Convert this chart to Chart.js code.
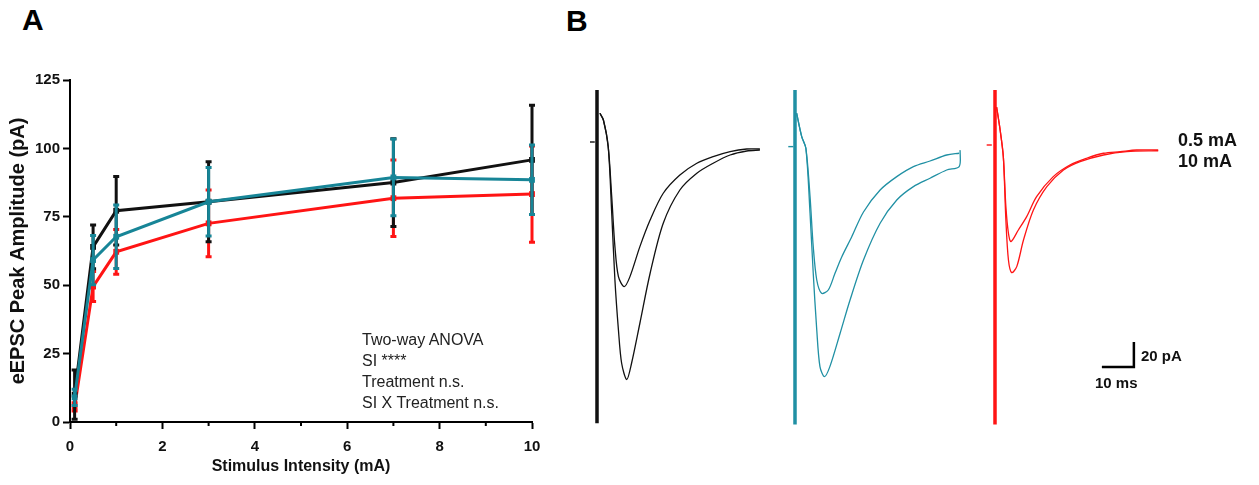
<!DOCTYPE html>
<html>
<head>
<meta charset="utf-8">
<script src="https://cdn.jsdelivr.net/npm/chart.js@4.4.1/dist/chart.umd.min.js"></script>
<style>
  html, body { margin:0; padding:0; background:#fff; }
  body { width:1259px; height:485px; position:relative; overflow:hidden; font-family:'Liberation Sans', Arial, sans-serif; }
  .box { position:absolute; }
  .lbl { position:absolute; white-space:nowrap; color:#111; line-height:1; }
  .panel { font-weight:bold; font-size:30px; color:#000; }
  .anova { font-size:16px; color:#222; }
  .bold { font-weight:bold; }
</style>
</head>
<body>
<div class="lbl panel" style="left:22px; top:5px;">A</div>
<div class="lbl panel" style="left:566px; top:6px;">B</div>

<div class="box" style="left:0; top:0; width:560px; height:485px;"><canvas id="chartA"></canvas></div>

<div class="lbl anova" style="left:362px; top:332px;">Two-way ANOVA</div>
<div class="lbl anova" style="left:362px; top:353px;">SI ****</div>
<div class="lbl anova" style="left:362px; top:374px;">Treatment n.s.</div>
<div class="lbl anova" style="left:362px; top:395px;">SI X Treatment n.s.</div>

<div class="box" style="left:581px; top:82px; width:200px; height:350px;"><canvas id="traceBlack"></canvas></div>
<div class="box" style="left:779px; top:82px; width:200px; height:350px;"><canvas id="traceTeal"></canvas></div>
<div class="box" style="left:979px; top:82px; width:200px; height:350px;"><canvas id="traceRed"></canvas></div>

<div class="lbl bold" style="left:1178px; top:131px; font-size:18px;">0.5 mA</div>
<div class="lbl bold" style="left:1178px; top:152px; font-size:18px;">10 mA</div>
<div class="lbl bold" style="left:1141px; top:348px; font-size:15px;">20 pA</div>
<div class="lbl bold" style="left:1095px; top:375px; font-size:15px;">10 ms</div>

<script>
// ---------- Panel A data ----------
const stimulus = [0.1, 0.5, 1, 3, 7, 10];           // mA
const blackMean = [10, 64, 77.2, 80.5, 87.5, 95.8];  // pA
const blackSem  = [9, 8, 12.5, 14.6, 16, 20];
const tealMean  = [9, 59.2, 67.7, 80.5, 89.4, 88.5];
const tealSem   = [3, 9, 11.6, 12.5, 14, 12.7];
const redMean   = [5.5, 49.5, 62.2, 72.6, 81.8, 83.3];
const redSem    = [1.5, 5.5, 8.2, 12.2, 14, 17.6];
const yTicks = [0, 25, 50, 75, 100, 125];
const xTicks = [0, 2, 4, 6, 8, 10];

// ---------- Panel B data (time in ms after stimulus, current in pA) ----------
const blackPreT = [-2.2, -0.7];  const blackPreI = [0, 0];
const blackArtT = [0, 0];        const blackArtI = [41.6, -225];
const black05T = [0.9, 2.0, 3.5, 4.6, 5.6, 6.7, 8.5, 10.3, 13.4, 16.6, 20.7, 25.9, 31.2, 36.3, 41.6, 46.8, 50.9];
const black05I = [23, 17.6, -3.7, -43.7, -83.7, -107.7, -115.7, -107.7, -83.7, -62.4, -41, -26.4, -17, -11.7, -7.7, -5.6, -5.6];
const black10T = [0.9, 2.0, 3.5, 4.6, 5.6, 6.7, 7.7, 9.3, 10.8, 13.4, 16.6, 20.7, 25.9, 31.2, 36.3, 41.6, 46.8, 50.9];
const black10I = [23, 17.6, -3.7, -57, -110.4, -150.4, -177, -190, -177, -145, -105, -65, -38.4, -25, -17, -10.4, -7.2, -6.4];

const tealPreT = [-2.1, -0.5];   const tealPreI = [-3.7, -3.7];
const tealArtT = [0, 0];         const tealArtI = [41.6, -226];
const teal05T = [0.5, 2.1, 3.4, 4.7, 5.7, 6.8, 8.3, 10.4, 12.5, 14.6, 17.7, 21.4, 26.6, 31.8, 37, 42.2, 47.4, 51.3];
const teal05I = [23, 4.3, -5, -43.7, -83.7, -110.4, -121, -118.4, -105, -92, -76, -56, -38.4, -27.7, -19.7, -15.2, -10.4, -9];
const teal10T = [0.5, 2.1, 3.4, 4.7, 5.7, 6.8, 7.8, 9.2, 10.9, 14.1, 17.2, 21.4, 26.6, 31.8, 37, 42.2, 47.4, 51.3, 51.6];
const teal10I = [23, 4.3, -5, -57, -105, -150.4, -179.7, -187.7, -179.7, -153, -126.4, -94.4, -65, -46.4, -35.7, -29, -22.4, -19.7, -6.5];

const redPreT = [-2.6, -1.0];    const redPreI = [-2.4, -2.4];
const redArtT = [0, 0];          const redArtI = [41.6, -226];
const red05T = [0.5, 1.6, 2.6, 3.4, 4.2, 5.0, 7.3, 9.9, 13, 18.2, 23.4, 28.6, 33.9, 39.1, 44.3, 51];
const red05I = [28, 9.6, -11.7, -51.7, -73, -79.7, -70.4, -59.7, -43.7, -27.7, -18.4, -13, -9, -7.7, -6.4, -6.4];
const red10T = [0.5, 1.6, 2.6, 3.4, 4.2, 5.2, 6.8, 8.9, 12, 16.2, 21.4, 26.6, 33.9, 41.2, 51];
const red10I = [28, 9.6, -11.7, -62.4, -94.4, -104.5, -99.7, -78.4, -54.4, -35.7, -22.4, -15.7, -10.4, -7.7, -7];

const scaleBarT = [33.4, 43.4, 43.4];  // 10 ms
const scaleBarI = [-180, -180, -160];  // 20 pA

// ---------- colours ----------
const C_BLACK = '#111111', C_TEAL = '#178597', C_RED = '#ff1414';
const C_TEAL_TR = '#2090a4';

const FONT = "'Liberation Sans', Arial, sans-serif";

function pts(xs, ys) { return xs.map((x, i) => ({ x: x, y: ys[i] })); }

// Error bars drawn through the chart's scales
const errorBars = {
  id: 'errorBars',
  afterDatasetDraw(chart, args) {
    const ds = chart.data.datasets[args.index];
    if (!ds.errors) return;
    const xs = chart.scales.x, ys = chart.scales.y, ctx = chart.ctx;
    ctx.save();
    ctx.strokeStyle = ds.borderColor;
    ctx.lineWidth = 3;
    ds.data.forEach((p, i) => {
      const e = ds.errors[i];
      const px = xs.getPixelForValue(p.x);
      const yt = ys.getPixelForValue(p.y + e);
      const yb = ys.getPixelForValue(p.y - e);
      ctx.beginPath();
      ctx.moveTo(px, yt); ctx.lineTo(px, yb);
      ctx.moveTo(px - 3, yt); ctx.lineTo(px + 3, yt);
      ctx.moveTo(px - 3, yb); ctx.lineTo(px + 3, yb);
      ctx.stroke();
    });
    ctx.restore();
  }
};

// Minor ticks on x axis (odd mA)
const minorTicks = {
  id: 'minorTicks',
  afterDraw(chart) {
    const xs = chart.scales.x, ctx = chart.ctx;
    const base = chart.chartArea.bottom;
    ctx.save();
    ctx.strokeStyle = '#000'; ctx.lineWidth = 2;
    for (let v = 1; v < 10; v += 2) {
      const px = xs.getPixelForValue(v);
      ctx.beginPath(); ctx.moveTo(px, base); ctx.lineTo(px, base + 4); ctx.stroke();
    }
    ctx.restore();
  }
};

function seriesDs(label, mean, sem, color, order) {
  return {
    label: label,
    data: pts(stimulus, mean),
    errors: sem,
    borderColor: color,
    backgroundColor: color,
    borderWidth: 3,
    pointRadius: 2,
    pointStyle: 'rect',
    tension: 0,
    order: order,
    clip: false
  };
}

new Chart(document.getElementById('chartA'), {
  type: 'scatter',
  data: {
    datasets: [
      seriesDs('Teal', tealMean, tealSem, C_TEAL, 1),
      seriesDs('Black', blackMean, blackSem, C_BLACK, 2),
      seriesDs('Red', redMean, redSem, C_RED, 3)
    ].map(d => Object.assign(d, { showLine: true }))
  },
  options: {
    responsive: true,
    maintainAspectRatio: false,
    animation: false,
    devicePixelRatio: 1,
    layout: { padding: { left: 0, top: 80, right: 28, bottom: 5 } },
    plugins: { legend: { display: false }, tooltip: { enabled: false } },
    scales: {
      x: {
        type: 'linear', min: 0, max: 10,
        afterFit(s) { s.height = 58; },
        afterBuildTicks(s) { s.ticks = xTicks.map(v => ({ value: v })); },
        ticks: { color: '#111', font: { family: FONT, size: 15, weight: 'bold' }, padding: 9, maxRotation: 0 },
        grid: { display: true, drawOnChartArea: false, drawTicks: true, tickLength: 7, tickWidth: 2, tickColor: '#000' },
        border: { display: true, color: '#000', width: 2 },
        title: { display: true, text: 'Stimulus Intensity (mA)', color: '#111', font: { family: FONT, size: 16, weight: 'bold' }, padding: { top: 2, bottom: 4 } }
      },
      y: {
        type: 'linear', min: 0, max: 125,
        afterFit(s) { s.width = 70; },
        afterBuildTicks(s) { s.ticks = yTicks.map(v => ({ value: v })); },
        ticks: { color: '#111', font: { family: FONT, size: 15, weight: 'bold' }, padding: 3 },
        grid: { display: true, drawOnChartArea: false, drawTicks: true, tickLength: 7, tickWidth: 2, tickColor: '#000' },
        border: { display: true, color: '#000', width: 2 },
        title: { display: true, text: 'eEPSC Peak Amplitude (pA)', color: '#111', font: { family: FONT, size: 20, weight: 'bold' }, padding: { top: 6, bottom: 0 } }
      }
    }
  },
  plugins: [errorBars, minorTicks]
});

// ---------- Panel B traces ----------
function traceChart(id, color, preT, preI, artT, artI, t05, i05, t10, i10, extra) {
  const line = (xs, ys, c, w) => ({
    data: pts(xs, ys), borderColor: c, borderWidth: w, showLine: true,
    pointRadius: 0, tension: 0.3, clip: false, fill: false
  });
  const ds = [
    line(preT, preI, color, 1.4),
    line(t05, i05, color, 1.3),
    line(t10, i10, color, 1.3),
    Object.assign(line(artT, artI, color, 3.5), { tension: 0 })
  ];
  if (extra) ds.push(extra);
  new Chart(document.getElementById(id), {
    type: 'scatter',
    data: { datasets: ds },
    options: {
      responsive: true, maintainAspectRatio: false, animation: false, devicePixelRatio: 1,
      layout: { padding: 0 },
      plugins: { legend: { display: false }, tooltip: { enabled: false } },
      scales: {
        x: { type: 'linear', min: -5, max: 57.5, display: false },
        y: { type: 'linear', min: -232, max: 48, display: false }
      }
    }
  });
}

traceChart('traceBlack', C_BLACK, blackPreT, blackPreI, blackArtT, blackArtI, black05T, black05I, black10T, black10I);
traceChart('traceTeal', C_TEAL_TR, tealPreT, tealPreI, tealArtT, tealArtI, teal05T, teal05I, teal10T, teal10I);
traceChart('traceRed', C_RED, redPreT, redPreI, redArtT, redArtI, red05T, red05I, red10T, red10I, {
  data: pts(scaleBarT, scaleBarI), borderColor: '#000', borderWidth: 2.5, showLine: true,
  pointRadius: 0, tension: 0, clip: false
});
</script>
</body>
</html>
